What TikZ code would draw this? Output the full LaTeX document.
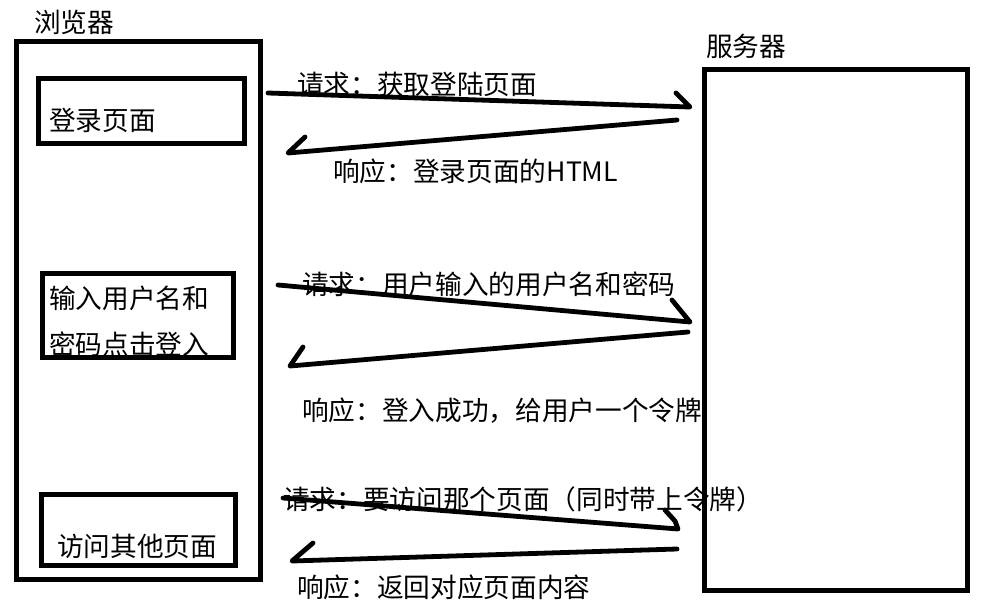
\documentclass[tikz,border=0pt]{standalone}
\usepackage{fontspec}
\setmainfont{Noto Sans CJK SC}
\newcommand\lblfont{\fontsize{20pt}{24pt}\selectfont}
\begin{document}
\begin{tikzpicture}[x=0.75pt,y=-0.75pt,
  box/.style={draw,line width=3.75pt},
  lbl/.style={anchor=west,inner sep=0pt,font=\lblfont},
  stroke/.style={line width=3.6pt,line cap=round,line join=round}]
\useasboundingbox[fill=white] (0,0) rectangle (983,600);

% titles
\node[lbl] (tbrowser) at (34,22) {浏览器};
\node[lbl] (tserver) at (706,46) {服务器};

% browser box and its pages
\draw[box] (16.5,41) rectangle (260.5,579.5);
\draw[box] (38.5,78.5) rectangle (244.5,143);
\node[lbl] (plogin) at (49,120) {登录页面};
\begin{scope}
  \clip (42.5,273.5) rectangle (233,357.5);
  \node[lbl] (pinput1) at (49,298) {输入用户名和};
  \node[lbl] (pinput2) at (49,344) {密码点击登入};
\end{scope}
\draw[box] (42.5,273.5) rectangle (233,357.5);
\draw[box] (41.5,494.5) rectangle (235.5,565.5);
\node[lbl] (pvisit) at (57,546) {访问其他页面};

% messages
\node[lbl] (q1) at (297,84) {请求：获取登陆页面};
\node[lbl] (r1) at (333,171) {响应：登录页面的HTML};
\node[lbl] (q2) at (302,284) {请求：用户输入的用户名和密码};
\node[lbl] (r2) at (302,411) {响应：登入成功，给用户一个令牌};
\node[lbl] (q3) at (283,499) {请求：要访问那个页面（同时带上令牌）};
\node[lbl] (r3) at (297,587) {响应：返回对应页面内容};

% server box
\draw[box] (704.5,69.5) rectangle (967.5,590.5);

% arrow coordinates
\coordinate (a1s) at (268,93);   \coordinate (a1e) at (690,107); \coordinate (a1b) at (676,93);
\coordinate (b1s) at (677,120);  \coordinate (b1e) at (288,153); \coordinate (b1b) at (305,137);
\coordinate (a2s) at (278,285);  \coordinate (a2e) at (690,322); \coordinate (a2b) at (672,300);
\coordinate (b2s) at (688,332);  \coordinate (b2e) at (290,366); \coordinate (b2b) at (303,347);
\coordinate (a3s) at (283,498);  \coordinate (a3e) at (678,529); \coordinate (a3m) at (675,521); \coordinate (a3b) at (665,510);
\coordinate (b3s) at (677,549);  \coordinate (b3e) at (292,561); \coordinate (b3b) at (313,543);

\draw[stroke] (a1s) -- (a1e) -- (a1b);
\draw[stroke] (b1s) -- (b1e) -- (b1b);
\draw[stroke] (a2s) -- (a2e) -- (a2b);
\draw[stroke] (b2s) -- (b2e) -- (b2b);
\draw[stroke] (a3s) -- (a3e) -- (a3m) -- (a3b);
\draw[stroke] (b3s) -- (b3e) -- (b3b);
\end{tikzpicture}
\end{document}
